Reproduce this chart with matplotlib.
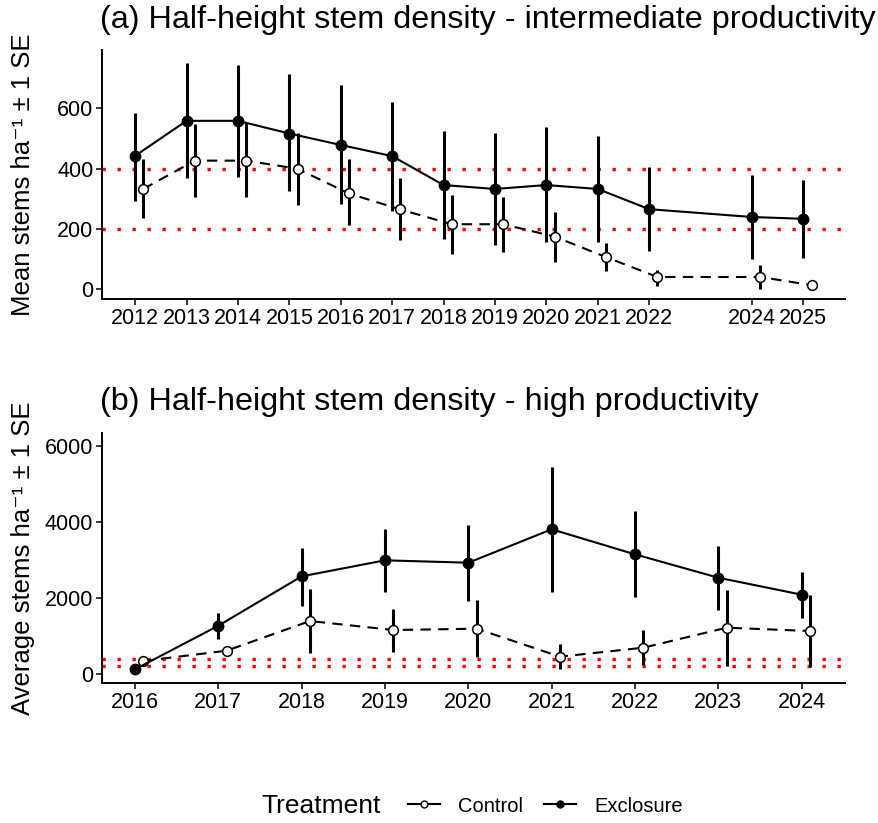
import numpy as np
import matplotlib.pyplot as plt
from matplotlib.lines import Line2D

plt.rcParams['font.family'] = ['Liberation Sans', 'DejaVu Sans']

# (a) intermediate productivity
years_a = [2012, 2013, 2014, 2015, 2016, 2017, 2018, 2019, 2020, 2021, 2022, 2024, 2025]
excl_a = [443, 559, 559, 517, 479, 442, 346, 333, 346, 333, 266, 240, 234]
excl_a_hi = [586, 752, 744, 713, 678, 620, 526, 519, 539, 510, 406, 378, 363]
excl_a_lo = [294, 368, 373, 327, 283, 261, 168, 148, 156, 158, 128, 100, 105]
ctrl_a = [333, 427, 427, 400, 318, 265, 216, 216, 175, 107, 41, 41, 14]
ctrl_a_hi = [431, 547, 553, 519, 431, 369, 313, 305, 255, 155, 64, 80, 31]
ctrl_a_lo = [237, 305, 305, 279, 212, 164, 116, 124, 92, 62, 11, 0, 0]

# (b) high productivity
years_b = [2016, 2017, 2018, 2019, 2020, 2021, 2022, 2023, 2024]
excl_b = [123, 1270, 2567, 2988, 2925, 3803, 3145, 2531, 2085]
excl_b_hi = [123, 1611, 3319, 3803, 3924, 5432, 4292, 3372, 2689]
excl_b_lo = [123, 920, 1795, 2163, 1926, 2155, 2015, 1682, 1472]
ctrl_b = [342, 613, 1393, 1156, 1191, 455, 692, 1217, 1130]
ctrl_b_hi = [342, 718, 2226, 1708, 1945, 780, 1156, 2208, 2076]
ctrl_b_lo = [342, 508, 543, 587, 438, 123, 236, 210, 176]

thresholds = [200, 400]

W, H = 879, 823
fig = plt.figure(figsize=(W / 100, H / 100), dpi=100)


def add_ax(left, top, right, bottom):
    return fig.add_axes([left / W, 1 - bottom / H, (right - left) / W, (bottom - top) / H])


def panel(ax, years, excl, ehi, elo, ctrl, chi, clo, dodge):
    x = np.array(years, dtype=float)
    xc = x + dodge
    for t in thresholds:
        ax.axhline(t, color='red', lw=2.4, ls=(0, (1, 3.5)), zorder=1)
    ax.vlines(x, elo, ehi, color='black', lw=2.2, zorder=2)
    ax.vlines(xc, clo, chi, color='black', lw=2.2, zorder=2)
    ax.plot(xc, ctrl, color='black', lw=1.5, ls=(0, (5, 3.5)), marker='o', ms=7,
            mfc='white', mec='black', mew=1.1, zorder=3)
    ax.plot(x, excl, color='black', lw=1.5, marker='o', ms=7.5,
            mfc='black', mec='black', zorder=4)
    for s in ['top', 'right']:
        ax.spines[s].set_visible(False)
    for s in ['left', 'bottom']:
        ax.spines[s].set_linewidth(1.4)
    ax.tick_params(axis='both', length=4, width=1.1, labelsize=15.5, pad=2, colors='black')


ax1 = add_ax(101.7, 50, 845, 299.3)
panel(ax1, years_a, excl_a, excl_a_hi, excl_a_lo, ctrl_a, ctrl_a_hi, ctrl_a_lo, 0.16)
ax1.set_xlim(2011.35, 2025.81)
ax1.set_ylim(-33, 794)
ax1.set_xticks(years_a)
ax1.set_yticks([0, 200, 400, 600])
ax1.set_ylabel('Mean stems ha⁻¹ ± 1 SE', fontsize=18.5)
ax1.yaxis.set_label_coords(-0.09, 0.5)

ax2 = add_ax(101.7, 433.3, 845, 683.3)
panel(ax2, years_b, excl_b, excl_b_hi, excl_b_lo, ctrl_b, ctrl_b_hi, ctrl_b_lo, 0.1)
ax2.set_xlim(2015.6, 2024.52)
ax2.set_ylim(-244, 6326)
ax2.set_xticks(years_b)
ax2.set_yticks([0, 2000, 4000, 6000])
ax2.set_ylabel('Average stems ha⁻¹ ± 1 SE', fontsize=18.5)
ax2.yaxis.set_label_coords(-0.09, 0.5)

fig.text(100 / W, 1 - 20 / H, '(a) Half-height stem density - intermediate productivity',
         fontsize=23.3, va='center', ha='left')
fig.text(100 / W, 1 - 402 / H, '(b) Half-height stem density - high productivity',
         fontsize=23.3, va='center', ha='left')

# legend
fig.text(261 / W, 1 - 806 / H, 'Treatment', fontsize=19, va='center', ha='left')
handles = [
    Line2D([], [], color='black', lw=1.5, marker='o', ms=5, mfc='white', mec='black'),
    Line2D([], [], color='black', lw=1.5, marker='o', ms=5, mfc='black'),
]
fig.legend(handles, ['Control', 'Exclosure'], loc='center left',
           bbox_to_anchor=(390 / W, 1 - 806 / H), ncol=2, frameon=False,
           fontsize=14.5, handlelength=1.6, columnspacing=1.0, handletextpad=0.9)

fig.savefig('out.png', dpi=100)
